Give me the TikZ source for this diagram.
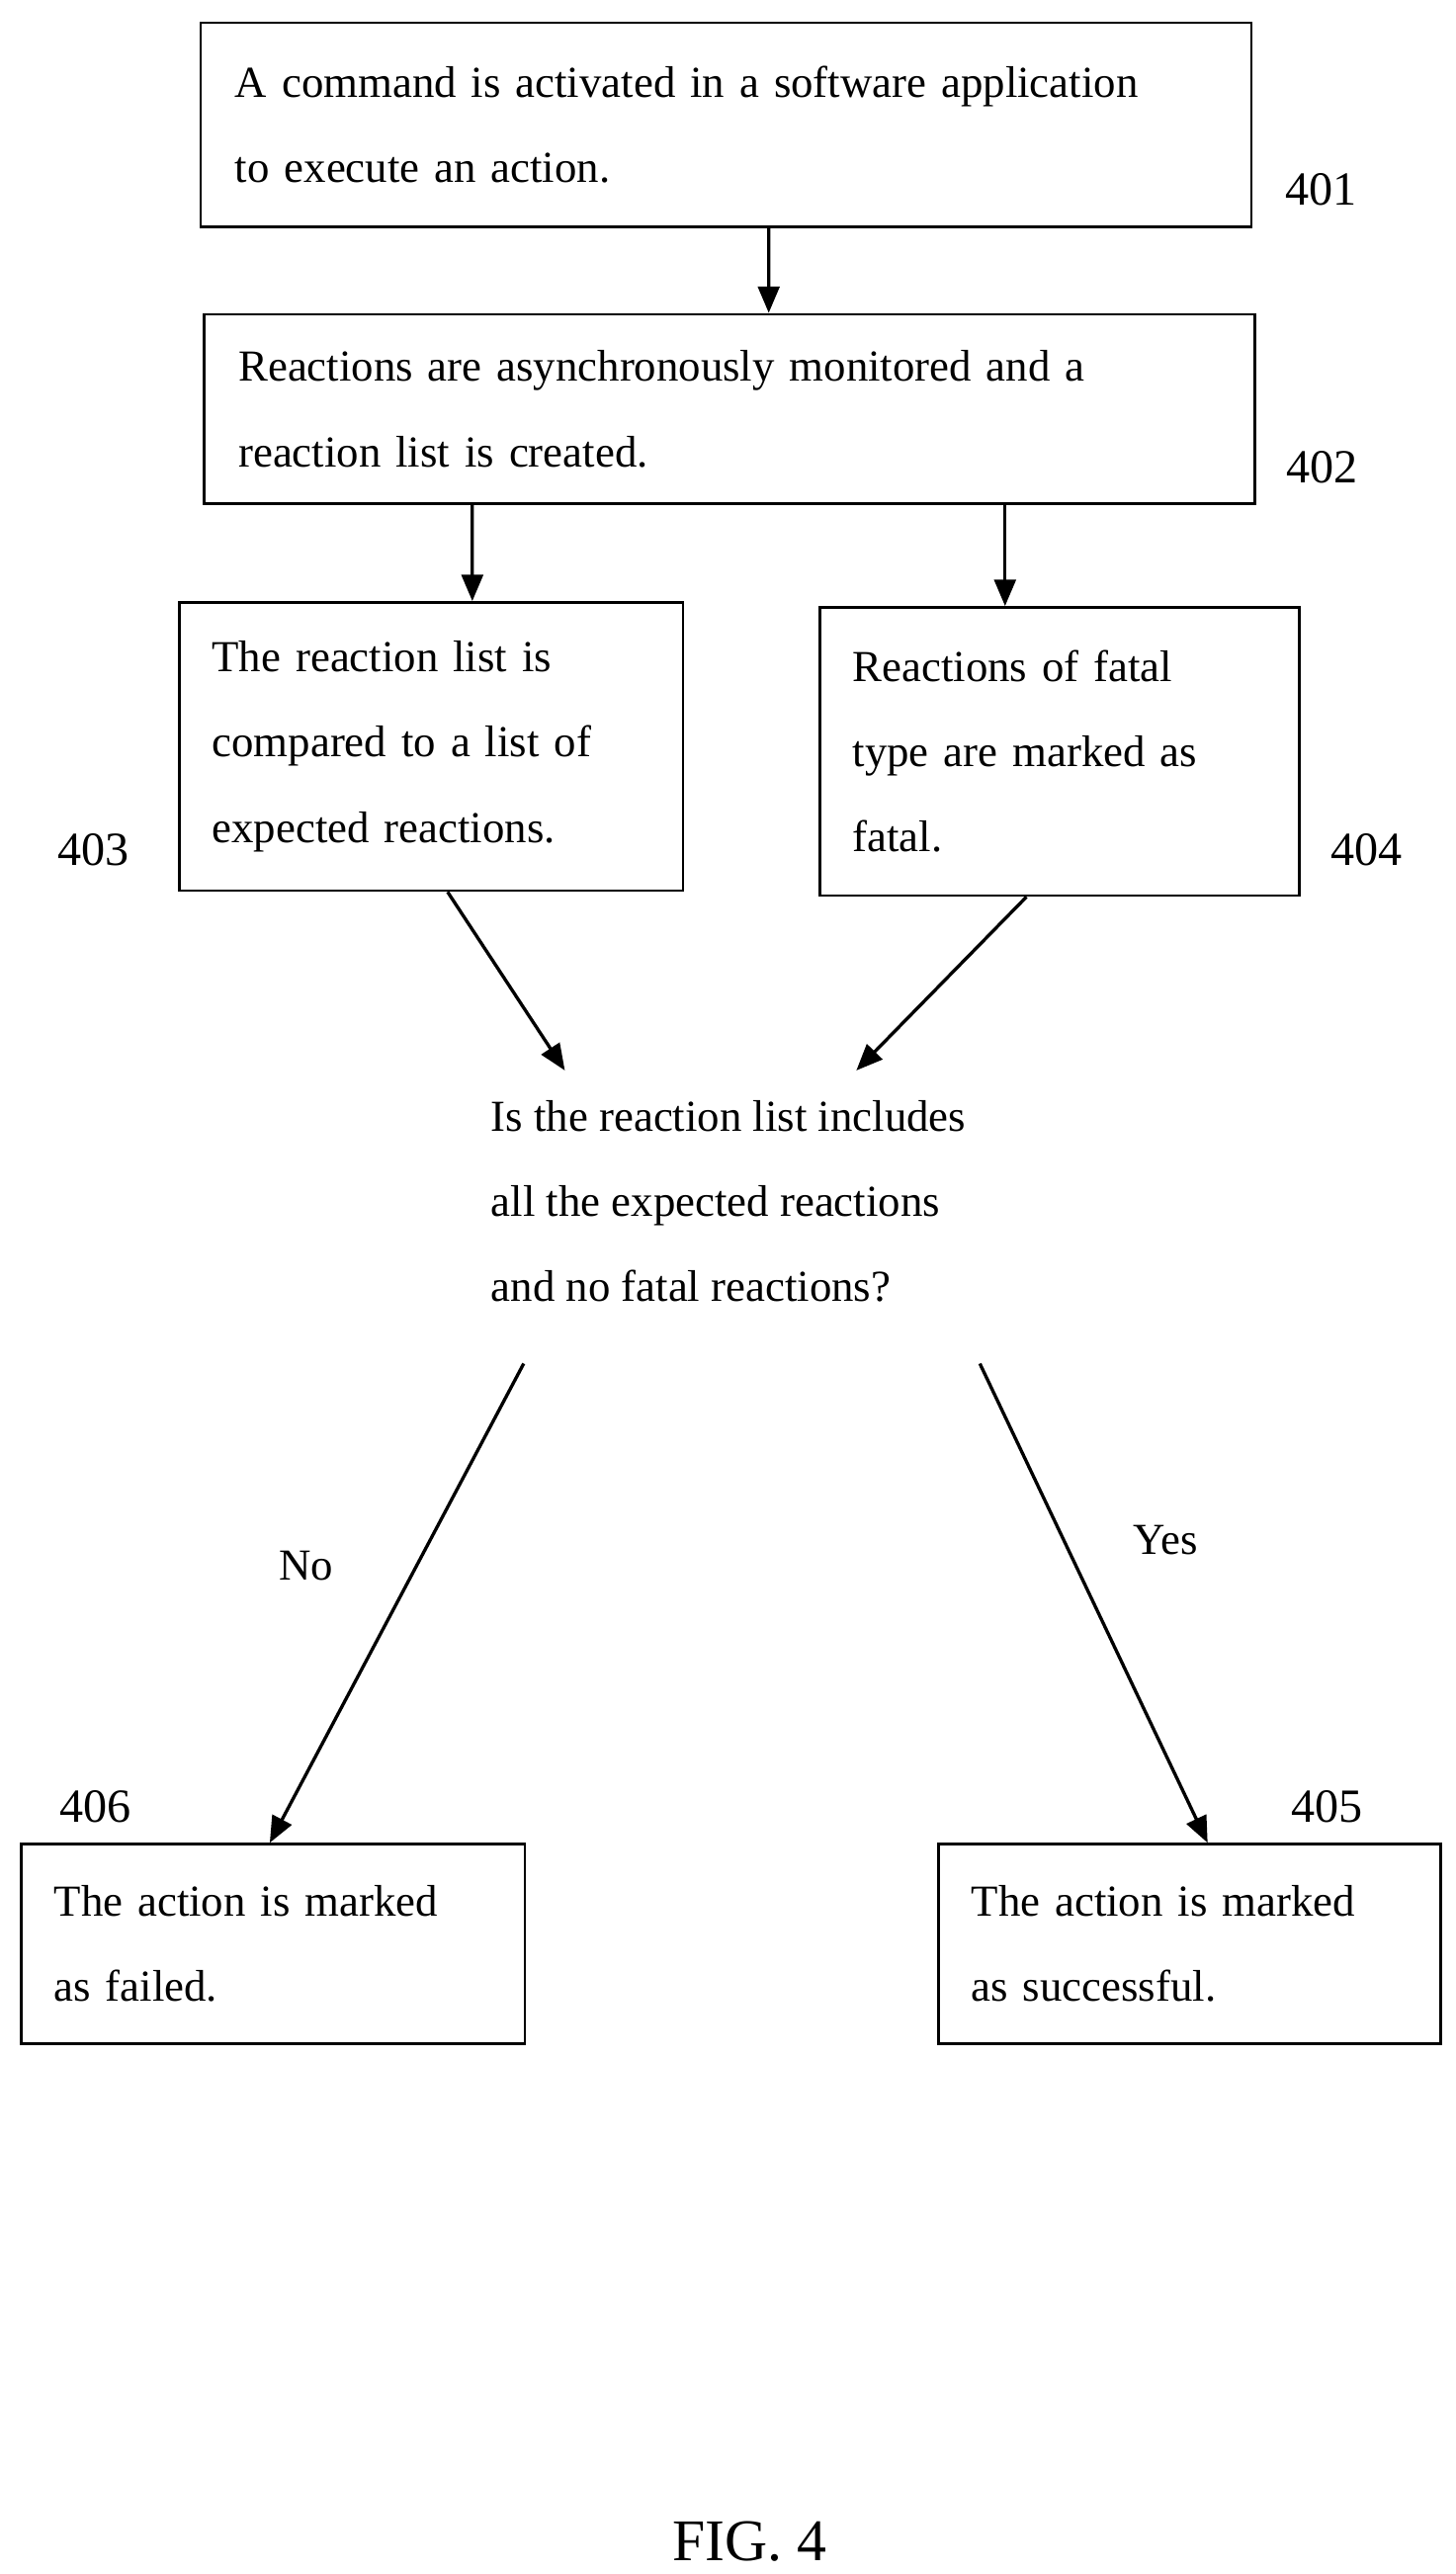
\documentclass[tikz,border=0pt]{standalone}
\usepackage{fontspec}
\setmainfont{Liberation Serif}
\usetikzlibrary{arrows.meta}
\begin{document}
\begin{tikzpicture}[x=1bp,y=-1bp,
  box/.style={draw,line width=1.6bp,anchor=north west,align=left,inner xsep=0pt,inner ysep=0pt,font=\fontsize{27}{52}\selectfont},
  lbl/.style={font=\fontsize{29}{34}\selectfont},
  arr/.style={line width=2bp,-{Triangle[length=16bp,width=13bp]}}]
\useasboundingbox (0,0) rectangle (884,1563);
\node[box,minimum width=638bp,minimum height=124bp,text width=596bp] (b401) at (121,13) {A command is activated in a software application\\to execute an action.};
\node[box,minimum width=638bp,minimum height=115bp,text width=596bp] (b402) at (123,190) {Reactions are asynchronously monitored and a\\reaction list is created.};
\node[box,minimum width=306bp,minimum height=175bp,text width=266bp] (b403) at (108,365) {The reaction list is\\compared to a list of\\expected reactions.};
\node[box,minimum width=291bp,minimum height=175bp,text width=251bp] (b404) at (497,368) {Reactions of fatal\\type are marked as\\fatal.};
\node[align=left,anchor=north west,inner sep=0pt,font=\fontsize{27}{52}\selectfont] (dec) at (298,668) {Is the reaction list includes\\all the expected reactions\\and no fatal reactions?};
\node[box,minimum width=306bp,minimum height=121bp,text width=266bp] (b406) at (12,1119) {The action is marked\\as failed.};
\node[box,minimum width=305bp,minimum height=121bp,text width=265bp] (b405) at (569,1119) {The action is marked\\as successful.};
\node[lbl] (l401) at (802,115) {401};
\node[lbl] (l402) at (803,284) {402};
\node[lbl] (l403) at (57,516) {403};
\node[lbl] (l404) at (830,516) {404};
\node[lbl] (l406) at (58,1097) {406};
\node[lbl] (l405) at (806,1097) {405};
\node[font=\fontsize{27}{32}\selectfont] (no) at (186,951) {No};
\node[font=\fontsize{27}{32}\selectfont] (yes) at (708,935) {Yes};
\node[font=\fontsize{36}{42}\selectfont] (fig) at (455,1543) {FIG. 4};
\coordinate (d1) at (343,650);
\coordinate (d2) at (520,650);
\coordinate (d3) at (318,828);
\coordinate (d4) at (595,828);
\draw[arr] ([xshift=26bp]b401.south) -- ([xshift=24bp]b402.north);
\draw[arr] (b402.south -| b403.north) ++(25,0) coordinate (s1) -- ([xshift=25bp]b403.north);
\draw[arr] ([xshift=-33bp]b402.south -| b404.north) -- ([xshift=-33bp]b404.north);
\draw[arr] ([xshift=10bp]b403.south) -- (d1);
\draw[arr] ([xshift=-20bp]b404.south) -- (d2);
\draw[arr] (d3) -- ([xshift=-2bp]b406.north);
\draw[arr] (d4) -- ([xshift=11bp]b405.north);
\end{tikzpicture}
\end{document}
